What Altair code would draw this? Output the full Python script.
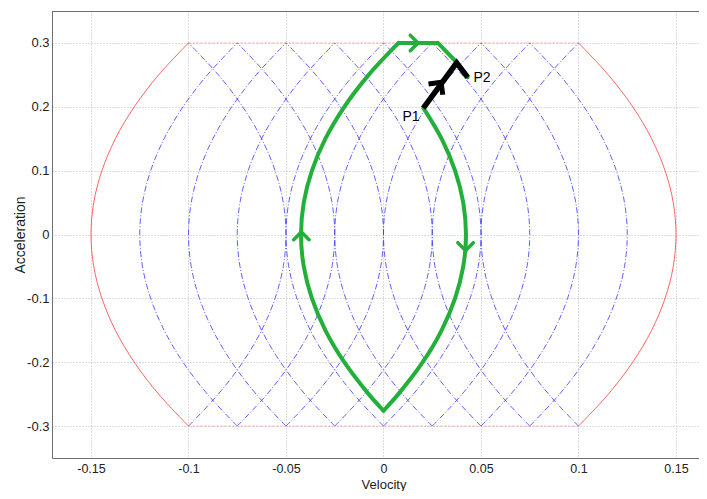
import altair as alt
import pandas as pd

# ---- data ----
accel_pts = [-0.3, -0.25, -0.2, -0.15, -0.1, -0.05, 0.0, 0.05, 0.1, 0.15, 0.2, 0.25, 0.3]
bulge = [0.0, 0.0153, 0.0278, 0.0375, 0.0444, 0.0486, 0.05, 0.0486, 0.0444, 0.0375, 0.0278, 0.0153, 0.0]
arc_tops = [-0.1, -0.075, -0.05, -0.025, 0.0, 0.025, 0.05, 0.075, 0.1]

limit_v = [-0.1, 0.1]
limit_a = [0.3, -0.3]

green_seg = [1]*11 + [2]*13 + [3]*2 + [4]*5
green_v = [0.0205, 0.0298, 0.0367, 0.0409, 0.0423, 0.0409, 0.0367, 0.0298, 0.0201, 0.0076, 0.0,
           0.0, -0.0076, -0.0201, -0.0298, -0.0367, -0.0409, -0.0423, -0.0409, -0.0367, -0.0298, -0.0201, -0.0076, 0.0077,
           0.0077, 0.0278,
           0.0278, 0.0311, 0.0342, 0.0379, 0.0432]
green_a = [0.198, 0.15, 0.1, 0.05, 0.0, -0.05, -0.1, -0.15, -0.2, -0.25, -0.276,
           -0.276, -0.25, -0.2, -0.15, -0.1, -0.05, 0.0, 0.05, 0.1, 0.15, 0.2, 0.25, 0.3,
           0.3, 0.3,
           0.3, 0.29, 0.28, 0.268, 0.246]

green_arrow_v = [0.0177, 0.0421, -0.0421]
green_arrow_a = [0.3, -0.025, 0.004]
green_arrow_dir = [90, 180, 0]

black_v = [0.0204, 0.0375, 0.0432]
black_a = [0.198, 0.2687, 0.246]
black_arrow_v = [0.0295]
black_arrow_a = [0.2385]
black_arrow_dir = [37]

label_text = ["P1", "P2"]
label_v = [0.0141, 0.0505]
label_a = [0.1837, 0.2448]

x_ticks = [-0.15, -0.1, -0.05, 0, 0.05, 0.1, 0.15]
y_ticks = [-0.3, -0.2, -0.1, 0, 0.1, 0.2, 0.3]

# ---- tables ----
rows = []
aid = 0
for c in arc_tops:
    for side in (-1, 1):
        if side == -1:
            kind = "red" if c == -0.1 else "blue"
        else:
            kind = "red" if c == 0.1 else "blue"
        for i, (a, b) in enumerate(zip(accel_pts, bulge)):
            rows.append({"id": aid, "i": i, "v": c + side * b, "a": a, "kind": kind})
        aid += 1
arcs = pd.DataFrame(rows)

limits = pd.DataFrame({"v": [limit_v[0]] * 2, "v2": [limit_v[1]] * 2, "a": limit_a})
green = pd.DataFrame({"seg": green_seg, "i": list(range(len(green_v))), "v": green_v, "a": green_a})
garrows = pd.DataFrame({"v": green_arrow_v, "a": green_arrow_a, "dir": green_arrow_dir})
black = pd.DataFrame({"i": list(range(len(black_v))), "v": black_v, "a": black_a})
barrows = pd.DataFrame({"v": black_arrow_v, "a": black_arrow_a, "dir": black_arrow_dir})
labels = pd.DataFrame({"t": label_text, "v": label_v, "a": label_a})

W, H = 647, 447
xs = alt.Scale(domain=[-0.17, 0.1618], nice=False, zero=False)
ys = alt.Scale(domain=[-0.35, 0.35], nice=False, zero=False)
xaxis = alt.Axis(values=x_ticks, labelExpr="'' + datum.value", title="Velocity",
                 grid=True, ticks=False, labelPadding=4, labelFontSize=12.5,
                 titleX=331.5, titleY=30.5, titleBaseline="alphabetic", titleAlign="center")
yaxis = alt.Axis(values=y_ticks, labelExpr="'' + datum.value", title="Acceleration",
                 grid=True, ticks=False, labelPadding=3,
                 titleX=-32, titleY=H / 2, titleBaseline="middle", titleAlign="center", titleAngle=270)

X = lambda f="v": alt.X(f"{f}:Q", scale=xs, axis=xaxis)
Y = lambda f="a": alt.Y(f"{f}:Q", scale=ys, axis=yaxis)

blue_l = alt.Chart(arcs).transform_filter("datum.kind == 'blue'").mark_line(
    color="#3a3aff", strokeWidth=1, opacity=0.8, strokeDash=[6, 2, 1, 2], interpolate="catmull-rom"
).encode(x=X(), y=Y(), detail="id:N", order="i:Q")

red_l = alt.Chart(arcs).transform_filter("datum.kind == 'red'").mark_line(
    color="#ff3030", strokeWidth=1, opacity=0.75, interpolate="catmull-rom"
).encode(x=X(), y=Y(), detail="id:N", order="i:Q")

lim = alt.Chart(limits).mark_rule(color="#ff7070", strokeWidth=1, strokeDash=[2, 2], opacity=0.6).encode(
    x=X(), x2="v2:Q", y=Y())

green_l = alt.Chart(green).mark_line(
    color="#22b03a", strokeWidth=4, strokeCap="round", strokeJoin="round", interpolate="catmull-rom"
).encode(x=X(), y=Y(), detail="seg:N", order="i:Q")

chev = "M-1,1L0,0L1,1"
garrow = alt.Chart(garrows).mark_point(
    shape=chev, filled=False, color="#22b03a", strokeWidth=3.5, size=240, opacity=1,
    strokeCap="round", strokeJoin="round"
).encode(x=X(), y=Y(), angle=alt.Angle("dir:Q", scale=None))

black_l = alt.Chart(black).mark_line(
    color="black", strokeWidth=5.5, strokeJoin="miter", strokeCap="butt"
).encode(x=X(), y=Y(), order="i:Q")

barrow = alt.Chart(barrows).mark_point(
    shape=chev, filled=False, color="black", strokeWidth=5, size=320, opacity=1
).encode(x=X(), y=Y(), angle=alt.Angle("dir:Q", scale=None))

txt = alt.Chart(labels).mark_text(font="Liberation Sans", fontSize=14, color="black").encode(
    x=X(), y=Y(), text="t:N")

top = alt.Chart(labels).mark_rule(color="#707070", strokeWidth=1).encode(
    x=alt.value(0), x2=alt.value(W), y=alt.value(0.5))

chart = alt.layer(blue_l, red_l, lim, green_l, garrow, black_l, barrow, txt, top).properties(
    width=W, height=H,
    autosize=alt.AutoSizeParams(type="none"),
    padding={"left": 44, "top": 3, "right": 0, "bottom": 33},
).configure_view(stroke=None).configure_axis(
    labelFont="Liberation Sans", labelFontSize=13, labelColor="#222222",
    titleFont="Liberation Sans", titleFontSize=13, titleFontWeight="normal", titleColor="#222222",
    domainColor="#707070", domainWidth=1,
    gridColor="#b8b8b8", gridDash=[1, 2], gridWidth=1, gridOpacity=1,
).configure_axisY(titleFontSize=14)

chart.save("out.html", embed_options={"renderer": "svg", "actions": False})
